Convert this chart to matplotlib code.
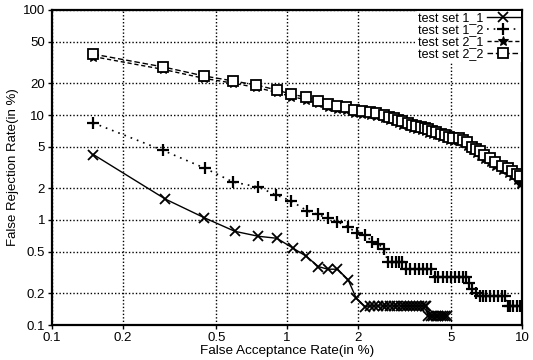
import matplotlib
matplotlib.use("Agg")
import matplotlib.pyplot as plt
from matplotlib.ticker import FixedLocator, FixedFormatter, NullLocator

# ---- data ----
x_11 = [0.15, 0.304, 0.445, 0.60, 0.755, 0.905, 1.06, 1.21, 1.36, 1.49, 1.64, 1.82, 1.97, 2.15,
        2.25, 2.35, 2.45, 2.55, 2.65, 2.75, 2.85, 2.95, 3.05, 3.15, 3.25, 3.35, 3.45, 3.55, 3.65, 3.75, 3.85, 3.92,
        3.98, 4.1, 4.2, 4.3, 4.4, 4.5, 4.6, 4.7, 4.8]
y_11 = [4.2, 1.58, 1.05, 0.78, 0.70, 0.67, 0.54, 0.45, 0.36, 0.34, 0.34, 0.27, 0.18, 0.15,
        0.152, 0.152, 0.152, 0.152, 0.152, 0.152, 0.152, 0.152, 0.152, 0.152, 0.152, 0.152, 0.152, 0.152, 0.152, 0.152, 0.152, 0.152,
        0.122, 0.122, 0.122, 0.122, 0.122, 0.122, 0.122, 0.122, 0.122]

x_12 = [0.15, 0.297, 0.449, 0.59, 0.755, 0.90, 1.04, 1.22, 1.35, 1.49, 1.64, 1.82, 1.98, 2.15, 2.31, 2.45, 2.58,
        2.69, 2.8, 2.9, 3.0, 3.1,
        3.2, 3.35, 3.5, 3.65, 3.8, 3.95, 4.1,
        4.25, 4.4, 4.6, 4.8, 5.0, 5.2, 5.4, 5.6, 5.75,
        5.95, 6.15, 6.4,
        6.6, 6.8, 7.0, 7.3, 7.6, 7.9, 8.2, 8.5,
        8.7, 8.9, 9.2, 9.5, 9.8]
y_12 = [8.4, 4.6, 3.1, 2.3, 2.06, 1.73, 1.52, 1.22, 1.13, 1.04, 0.96, 0.86, 0.75, 0.72, 0.62, 0.59, 0.53,
        0.40, 0.40, 0.40, 0.40, 0.40,
        0.34, 0.34, 0.34, 0.34, 0.34, 0.34, 0.34,
        0.285, 0.285, 0.285, 0.285, 0.285, 0.285, 0.285, 0.285, 0.285,
        0.25, 0.22, 0.20,
        0.188, 0.188, 0.188, 0.188, 0.188, 0.188, 0.188, 0.188,
        0.152, 0.152, 0.152, 0.152, 0.152]

x_2 = [0.15, 0.297, 0.445, 0.59, 0.74, 0.905, 1.04, 1.2, 1.35, 1.49, 1.64, 1.79, 1.93, 2.09, 2.25, 2.4, 2.58,
       2.72, 2.85, 2.98, 3.1, 3.27, 3.4, 3.55, 3.7, 3.86, 4.0, 4.15, 4.3, 4.5, 4.7, 4.9, 5.1, 5.37, 5.6,
       5.85, 6.1, 6.37, 6.6, 6.9, 7.3, 7.7, 8.2, 8.7, 9.1, 9.5, 9.8]
y_22 = [38, 28.7, 23.5, 21.1, 19.3, 17.3, 15.8, 14.8, 13.6, 12.7, 12.2, 11.9, 11.2, 10.9, 10.7, 10.5, 10.0,
        9.6, 9.3, 9.0, 8.7, 8.4, 8.1, 7.9, 7.7, 7.5, 7.3, 7.1, 6.9, 6.6, 6.4, 6.2, 6.1, 6.0, 5.8,
        5.5, 5.0, 4.7, 4.5, 4.2, 3.9, 3.6, 3.3, 3.1, 2.9, 2.75, 2.6]
y_21 = [36, 27.2, 22.3, 20.1, 18.3, 16.4, 15.0, 14.0, 12.9, 12.0, 11.5, 11.2, 10.5, 10.2, 10.0, 9.8, 9.4,
        9.0, 8.7, 8.4, 8.1, 7.9, 7.6, 7.4, 7.2, 7.0, 6.8, 6.6, 6.4, 6.2, 6.0, 5.8, 5.7, 5.6, 5.4,
        5.1, 4.6, 4.3, 4.1, 3.8, 3.6, 3.3, 3.0, 2.8, 2.6, 2.4, 2.2]

labels = ["test set 1_1", "test set 1_2", "test set 2_1", "test set 2_2"]
xticks = [0.1, 0.2, 0.5, 1, 2, 5, 10]
xticklabels = ["0.1", "0.2", "0.5", "1", "2", "5", "10"]
yticks = [0.1, 0.2, 0.5, 1, 2, 5, 10, 20, 50, 100]
yticklabels = ["0.1", "0.2", "0.5", "1", "2", "5", "10", "20", "50", "100"]

plt.rcParams['font.family'] = ['Liberation Sans', 'DejaVu Sans']

fig = plt.figure(figsize=(5.33, 3.6), dpi=100)
ax = fig.add_axes([52/533, 1 - 325/360, 470/533, 315/360])

ax.plot(x_11, y_11, color='black', linestyle='-', linewidth=1.0,
        marker='x', markersize=7, markeredgewidth=1.3, label=labels[0])
ax.plot(x_12, y_12, color='black', linestyle=(0, (1, 3)), linewidth=1.2,
        marker='+', markersize=8, markeredgewidth=1.6, label=labels[1])
ax.plot(x_2, y_21, color='black', linestyle=(0, (3, 2)), linewidth=1.0,
        marker='*', markersize=7, markeredgewidth=0.8, label=labels[2])
ax.plot(x_2, y_22, color='black', linestyle=(0, (4, 2)), linewidth=1.0,
        marker='s', markersize=6.5, markeredgewidth=1.3, markerfacecolor='white', label=labels[3])

ax.set_xscale('log')
ax.set_yscale('log')
ax.set_xlim(0.1, 10)
ax.set_ylim(0.1, 100)
ax.xaxis.set_major_locator(FixedLocator(xticks))
ax.xaxis.set_major_formatter(FixedFormatter(xticklabels))
ax.xaxis.set_minor_locator(NullLocator())
ax.yaxis.set_major_locator(FixedLocator(yticks))
ax.yaxis.set_major_formatter(FixedFormatter(yticklabels))
ax.yaxis.set_minor_locator(NullLocator())

ax.grid(True, which='major', color='black', linestyle=(0, (1, 1.5)), linewidth=1.0)
ax.tick_params(axis='both', direction='out', length=3, width=1, labelsize=9.5, pad=2)
for s in ax.spines.values():
    s.set_linewidth(1.6)

ax.set_xlabel("False Acceptance Rate(in %)", fontsize=9.7, labelpad=1)
ax.set_ylabel("False Rejection Rate(in %)", fontsize=9.5, labelpad=3)

leg = ax.legend(loc='upper right', markerfirst=False, frameon=True, fontsize=9,
                handlelength=2.6, handletextpad=0.3, labelspacing=0.0,
                borderaxespad=0.1, borderpad=0.1, fancybox=False)
leg.get_frame().set_edgecolor('none')
leg.get_frame().set_facecolor('white')
leg.get_frame().set_alpha(1)

fig.savefig("out.png", dpi=100)
